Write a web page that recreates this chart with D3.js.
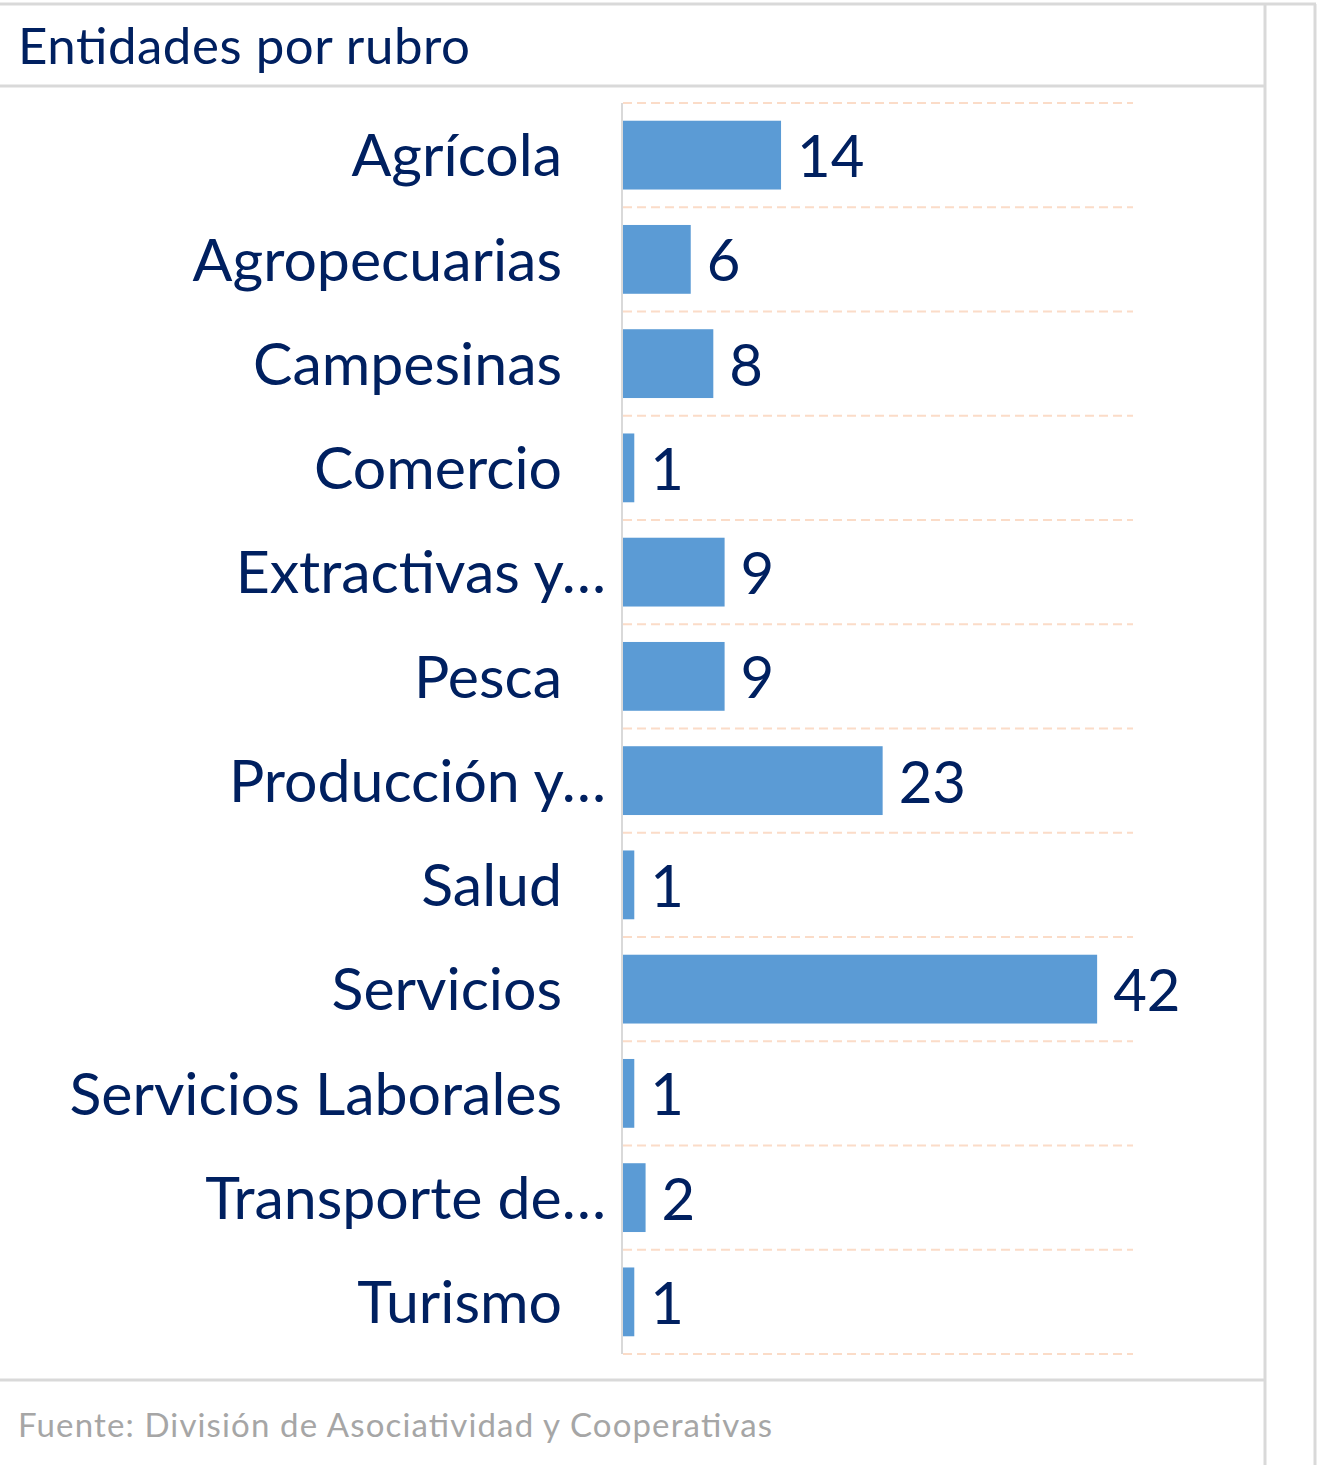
<!DOCTYPE html>
<html>
<head>
<meta charset="utf-8">
<script src="https://cdn.jsdelivr.net/npm/d3@7"></script>
<style>
  html, body { margin: 0; padding: 0; background: #ffffff; }
  svg { display: block; }
</style>
</head>
<body>
<div id="chart"></div>
<script>
// Chart data
const categories = [
    "Agrícola", "Agropecuarias", "Campesinas", "Comercio", "Extractivas y…",
    "Pesca", "Producción y…", "Salud", "Servicios", "Servicios Laborales",
    "Transporte de…", "Turismo"
];
const values = [14, 6, 8, 1, 9, 9, 23, 1, 42, 1, 2, 1];
const titleText = "Entidades por rubro";
const sourceText = "Fuente: División de Asociatividad y Cooperativas";

const width = 1319;
const height = 1465;
const navy = "#002060";
const barColor = "#5b9bd5";
const frameColor = "#d9d9d9";

const svg = d3.select("#chart")
    .append("svg")
    .attr("width", width)
    .attr("height", height);

// --------------------------------------
// Frame lines around the panel
const frame = svg.append("g").attr("stroke", frameColor).attr("stroke-width", 3);
frame.append("line").attr("x1", 0).attr("x2", 1316).attr("y1", 4).attr("y2", 4);
frame.append("line").attr("x1", 1265).attr("x2", 1265).attr("y1", 4).attr("y2", height);
frame.append("line").attr("x1", 1315).attr("x2", 1315).attr("y1", 4).attr("y2", height);
frame.append("line").attr("x1", 0).attr("x2", 1265).attr("y1", 86).attr("y2", 86);
frame.append("line").attr("x1", 0).attr("x2", 1265).attr("y1", 1380).attr("y2", 1380);

// Title and source
svg.append("text")
    .attr("x", 18).attr("y", 64)
    .attr("font-family", "Lato, 'Open Sans', sans-serif")
    .attr("font-size", 51)
    .attr("textLength", 452)
    .attr("lengthAdjust", "spacing")
    .attr("fill", navy)
    .text(titleText);

svg.append("text")
    .attr("x", 18).attr("y", 1437)
    .attr("font-family", "Lato, 'Open Sans', sans-serif")
    .attr("font-size", 33)
    .attr("textLength", 754)
    .attr("lengthAdjust", "spacing")
    .attr("fill", "#a6a6a6")
    .text(sourceText);

// --------------------------------------
// Scales
const x = d3.scaleLinear().domain([0, 45]).range([623, 1131]);
const y = d3.scaleBand().domain(categories).range([103, 1354]).paddingInner(0.34).paddingOuter(0.17);

// Dashed gridlines between categories
const gridY = d3.range(categories.length + 1).map(i => 103 + i * (1354 - 103) / categories.length);
svg.append("g")
    .selectAll("line")
    .data(gridY)
    .join("line")
    .attr("x1", 623).attr("x2", 1133)
    .attr("y1", d => d).attr("y2", d => d)
    .attr("stroke", "#fbdcc8")
    .attr("stroke-width", 2)
    .attr("stroke-dasharray", "9,5");

// Vertical axis line
svg.append("line")
    .attr("x1", 622).attr("x2", 622)
    .attr("y1", 103).attr("y2", 1354)
    .attr("stroke", frameColor)
    .attr("stroke-width", 2);

// Bars
const rows = categories.map((c, i) => ({ cat: c, val: values[i] }));
svg.append("g")
    .selectAll("rect")
    .data(rows)
    .join("rect")
    .attr("x", x(0))
    .attr("y", d => y(d.cat))
    .attr("width", d => x(d.val) - x(0))
    .attr("height", y.bandwidth())
    .attr("fill", barColor);

// Category labels (truncated ones run a bit further right, like the original)
svg.append("g")
    .selectAll("text")
    .data(rows)
    .join("text")
    .attr("x", d => d.cat.endsWith("…") ? 606 : 562)
    .attr("y", d => y(d.cat) + y.bandwidth() / 2)
    .attr("dy", "0.36em")
    .attr("text-anchor", "end")
    .attr("font-family", "Lato, 'Open Sans', sans-serif")
    .attr("font-size", 59)
    .attr("fill", navy)
    .text(d => d.cat);

// Value labels
svg.append("g")
    .selectAll("text")
    .data(rows)
    .join("text")
    .attr("x", d => x(d.val) + 16)
    .attr("y", d => y(d.cat) + y.bandwidth() / 2)
    .attr("dy", "0.38em")
    .attr("font-family", "Lato, 'Open Sans', sans-serif")
    .attr("font-size", 58)
    .attr("fill", navy)
    .text(d => d.val);
</script>
</body>
</html>
